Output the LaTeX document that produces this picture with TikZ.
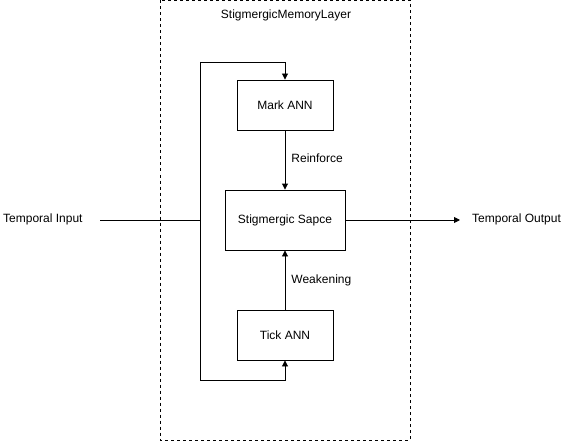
\documentclass[tikz,border=0pt]{standalone}
\usepackage{fontspec}
\setmainfont{Liberation Sans}
\usetikzlibrary{arrows.meta}
\begin{document}
\begin{tikzpicture}[x=1pt,y=-1pt,
  box/.style={draw,line width=0.9pt,minimum width=96pt,minimum height=50pt,inner sep=0pt,font=\fontsize{12}{14}\selectfont},
  lbl/.style={font=\fontsize{12}{14}\selectfont,inner sep=0pt},
  conn/.style={line width=0.9pt},
  arr/.style={conn,-{Triangle[length=6pt,width=6pt]}}]
\useasboundingbox (0,0) rectangle (581,441);
\draw[dashed,line width=0.8pt] (160.5,0.5) rectangle (410,440);
\node[lbl] (title) at (286,15) {StigmergicMemoryLayer};
\node[box] (mark) at (285,105) {Mark ANN};
\node[box,minimum width=120pt,minimum height=60pt] (space) at (285,220) {Stigmergic Sapce};
\node[box] (tick) at (285,335) {Tick ANN};
\node[lbl,anchor=west] (in) at (3,219) {Temporal Input};
\node[lbl,anchor=west] (out) at (472,219) {Temporal Output};
\coordinate (tl) at (200,62);
\coordinate (bl) at (200,380);
\coordinate (tr) at (285,62);
\coordinate (br) at (285,380);
\coordinate (inA) at (100,220);
\coordinate (inB) at (200,220);
\coordinate (outB) at (460,220);
\draw[arr] (bl) -- (tl) -- (tr) -- (mark.north);
\draw[arr] (tl) -- (bl) -- (br) -- (tick.south);
\draw[conn] (inA) -- (inB);
\draw[arr] (space.east) -- (outB);
\draw[arr] (mark.south) -- node[lbl,anchor=west,xshift=6pt,yshift=2pt] (r) {Reinforce} (space.north);
\draw[arr] (tick.north) -- node[lbl,anchor=west,xshift=6pt] (w) {Weakening} (space.south);
\end{tikzpicture}
\end{document}
